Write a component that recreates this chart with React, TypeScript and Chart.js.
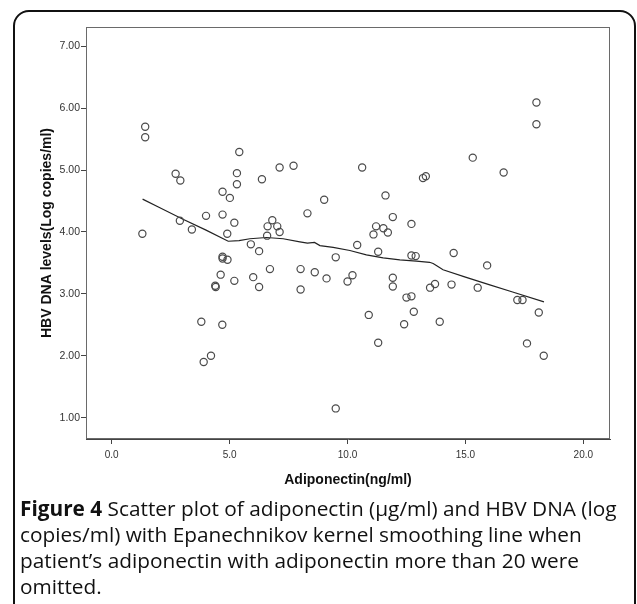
import React, { useEffect, useRef } from "react";
import { Chart, registerables } from "chart.js";

Chart.register(...registerables);

// Scatter data: adiponectin (ng/ml) vs HBV DNA (log copies/ml)
const adiponectin = [
  1.42, 1.42, 1.3, 2.71, 2.91, 2.89, 3.4, 4.0, 4.7, 4.7, 5.01, 5.41, 5.31, 5.31, 5.2, 4.9,
  5.9, 6.37, 6.25, 4.7, 4.7, 4.91, 4.62, 5.2, 6.0, 6.25, 4.39, 4.41, 3.8, 4.69, 4.21, 3.9,
  7.12, 7.71, 10.62, 13.2, 13.32, 9.01, 11.61, 8.3, 11.92, 12.71, 6.81, 6.61, 7.02, 7.12,
  6.59, 11.21, 11.52, 11.71, 11.1, 10.41, 11.3, 12.71, 12.89, 9.5, 6.71, 8.01, 8.61, 9.11,
  10.0, 10.21, 11.92, 11.92, 13.5, 13.71, 12.5, 12.71, 10.9, 12.81, 12.4, 13.91, 11.3, 9.5,
  18.01, 18.01, 15.31, 16.62, 14.5, 15.92, 14.41, 15.52, 17.2, 17.42, 18.11, 17.61, 18.32, 8.01,
];
const hbvDna = [
  5.7, 5.53, 3.97, 4.94, 4.83, 4.18, 4.04, 4.26, 4.28, 4.65, 4.55, 5.29, 4.95, 4.77, 4.15, 3.97,
  3.8, 4.85, 3.69, 3.6, 3.57, 3.55, 3.31, 3.21, 3.27, 3.11, 3.13, 3.11, 2.55, 2.5, 2.0, 1.9,
  5.04, 5.07, 5.04, 4.87, 4.9, 4.52, 4.59, 4.3, 4.24, 4.13, 4.19, 4.09, 4.09, 4.0,
  3.94, 4.09, 4.06, 3.99, 3.96, 3.79, 3.68, 3.62, 3.61, 3.59, 3.4, 3.4, 3.35, 3.25,
  3.2, 3.3, 3.26, 3.12, 3.1, 3.16, 2.94, 2.96, 2.66, 2.71, 2.51, 2.55, 2.21, 1.15,
  6.09, 5.74, 5.2, 4.96, 3.66, 3.46, 3.15, 3.1, 2.9, 2.9, 2.7, 2.2, 2.0, 3.07,
];

// Epanechnikov kernel smoothing line
const smoothX = [
  1.31, 2.0, 3.0, 4.0, 4.94, 5.4, 5.86, 6.57, 7.27, 7.98, 8.3, 8.6, 8.83, 9.39, 10.1, 10.8,
  11.51, 12.22, 12.92, 13.48, 13.63, 13.8, 14.05, 15.0, 16.0, 17.0, 18.33,
];
const smoothY = [
  4.53, 4.4, 4.21, 4.03, 3.85, 3.86, 3.89, 3.91, 3.89, 3.84, 3.82, 3.83, 3.78, 3.75, 3.7, 3.63,
  3.58, 3.55, 3.53, 3.51, 3.49, 3.45, 3.39, 3.27, 3.15, 3.03, 2.87,
];

const xTicks = [0, 5, 10, 15, 20];
const yTicks = [1, 2, 3, 4, 5, 6, 7];

const xTitle = "Adiponectin(ng/ml)";
const yTitle = "HBV DNA levels(Log copies/ml)";

const framePlugin = {
  id: "frame",
  beforeDatasetsDraw(chart: any) {
    const { ctx, chartArea } = chart;
    ctx.save();
    ctx.strokeStyle = "#6a6a6a";
    ctx.lineWidth = 1;
    ctx.strokeRect(
      Math.round(chartArea.left) + 0.5,
      Math.round(chartArea.top) + 0.5,
      Math.round(chartArea.right - chartArea.left) - 1,
      Math.round(chartArea.bottom - chartArea.top) - 1
    );
    ctx.restore();
  },
};

export default function App() {
  const canvasRef = useRef<HTMLCanvasElement | null>(null);

  useEffect(() => {
    const canvas = canvasRef.current;
    if (!canvas) return;
    const chart = new Chart(canvas, {
      type: "scatter",
      data: {
        datasets: [
          {
            label: "points",
            data: adiponectin.map((x, i) => ({ x, y: hbvDna[i] })),
            showLine: false,
            pointStyle: "circle",
            pointRadius: 3.6,
            pointBorderWidth: 1.2,
            pointBorderColor: "#4a4a4a",
            pointBackgroundColor: "rgba(0,0,0,0)",
          },
          {
            label: "smooth",
            data: smoothX.map((x, i) => ({ x, y: smoothY[i] })),
            showLine: true,
            pointRadius: 0,
            borderColor: "#222",
            borderWidth: 1.2,
            tension: 0,
          },
        ],
      },
      options: {
        animation: false,
        responsive: false,
        events: [],
        layout: { padding: { top: 27, right: 27, left: 0, bottom: 0 } },
        plugins: { legend: { display: false }, tooltip: { enabled: false } },
        scales: {
          x: {
            type: "linear",
            min: -1.09,
            max: 21.13,
            afterBuildTicks: (s: any) => {
              s.ticks = xTicks.map((v) => ({ value: v }));
            },
            afterFit: (s: any) => {
              s.height = 61;
            },
            ticks: {
              callback: (v: any) => Number(v).toFixed(1),
              color: "#333",
              font: { family: "'Liberation Sans', Arial, sans-serif", size: 10 },
              padding: 5,
              maxRotation: 0,
              autoSkip: false,
            },
            grid: {
              drawOnChartArea: false,
              drawTicks: true,
              tickLength: 5,
              tickColor: "#444",
              color: "#444",
            },
            border: { display: true, color: "#444", width: 1 },
            title: {
              display: true,
              text: xTitle,
              color: "#111",
              font: { family: "'Liberation Sans', Arial, sans-serif", size: 14, weight: "bold" },
              padding: { top: 0, bottom: 11 },
            },
          },
          y: {
            type: "linear",
            min: 0.656,
            max: 7.31,
            afterBuildTicks: (s: any) => {
              s.ticks = yTicks.map((v) => ({ value: v }));
            },
            afterFit: (s: any) => {
              s.width = 86;
            },
            ticks: {
              callback: (v: any) => Number(v).toFixed(2),
              color: "#333",
              font: { family: "'Liberation Sans', Arial, sans-serif", size: 10.5 },
              padding: 1,
              autoSkip: false,
            },
            grid: {
              drawOnChartArea: false,
              drawTicks: true,
              tickLength: 5,
              tickColor: "#444",
              color: "#444",
            },
            border: { display: true, color: "#444", width: 1 },
            title: {
              display: true,
              text: yTitle,
              color: "#111",
              font: { family: "'Liberation Sans', Arial, sans-serif", size: 14, weight: "bold" },
              padding: { top: 39, bottom: 0 },
            },
          },
        },
      },
      plugins: [framePlugin],
    });
    return () => chart.destroy();
  }, []);

  return (
    <div
      style={{
        position: "absolute",
        left: 0,
        top: 0,
        width: 637,
        height: 604,
        overflow: "hidden",
        background: "#fff",
      }}
    >
      <div
        style={{
          position: "absolute",
          left: 13,
          top: 10,
          width: 623,
          height: 660,
          boxSizing: "border-box",
          border: "2px solid #111",
          borderRadius: 16,
        }}
      />
      <canvas
        ref={canvasRef}
        width={637}
        height={500}
        style={{ position: "absolute", left: 0, top: 0, width: 637, height: 500 }}
      />
      <div
        style={{
          position: "absolute",
          left: 20,
          top: 495,
          width: 612,
          fontFamily: "'Open Sans', 'Noto Sans', sans-serif",
          fontSize: 20.8,
          lineHeight: "26px",
          color: "#111",
          whiteSpace: "nowrap",
        }}
      >
        <b>Figure 4</b> Scatter plot of adiponectin (µg/ml) and HBV DNA (log
        <br />
        copies/ml) with Epanechnikov kernel smoothing line when
        <br />
        patient’s adiponectin with adiponectin more than 20 were
        <br />
        omitted.
      </div>
    </div>
  );
}
